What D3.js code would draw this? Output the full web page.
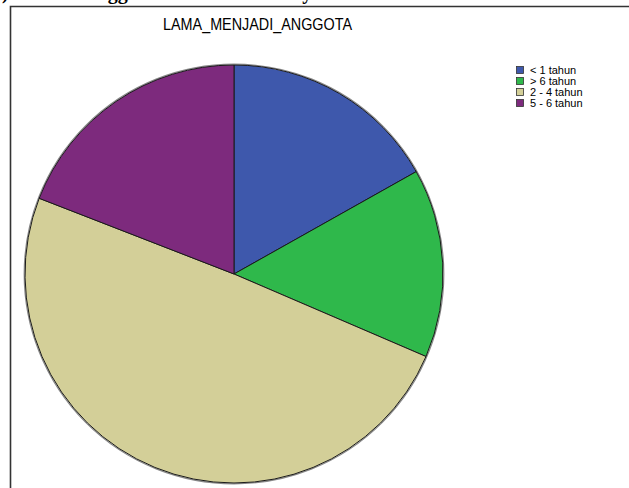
<!DOCTYPE html>
<html><head><meta charset="utf-8">
<script src="https://cdn.jsdelivr.net/npm/d3@7"></script>
<style>html,body{margin:0;padding:0;background:#fff;overflow:hidden}</style>
</head><body>
<svg id="c" width="629" height="488"></svg>
<script>
const categories = ["< 1 tahun", "> 6 tahun", "2 - 4 tahun", "5 - 6 tahun"];
const counts = [15, 13, 44, 17];
const colors = ["#3e58ac", "#2fb84b", "#d3cf98", "#7d2a7d"];
const title = "LAMA_MENJADI_ANGGOTA";
const heading = "b) Jumlah Anggota Menurut Lamanya";

const svg = d3.select("#c");

// cut-off heading above the frame
svg.append("text").attr("x", -9).attr("y", -1)
  .attr("font-family", "Liberation Serif").attr("font-weight", "bold")
  .attr("font-size", 20).attr("fill", "#000").text(heading);

// frame
svg.append("path").attr("d", "M10.5,490 V6.5 H640")
  .attr("fill", "none").attr("stroke", "#333").attr("stroke-width", 1.6);

svg.append("text").attr("x", 257.5).attr("y", 30).attr("text-anchor", "middle")
  .attr("font-family", "Liberation Sans").attr("font-size", 16).attr("fill", "#000")
  .attr("textLength", 189).attr("lengthAdjust", "spacingAndGlyphs")
  .text(title);

const cx = 234, cy = 274, r = 209;
const pie = d3.pie().sort(null).value(d => d.v);
const arcs = pie(categories.map((c, i) => ({c, v: counts[i], col: colors[i]})));
const arc = d3.arc().innerRadius(0).outerRadius(r);
const g = svg.append("g").attr("transform", `translate(${cx},${cy})`);
g.append("circle").attr("r", r + 0.8).attr("fill", "none").attr("stroke", "#888").attr("stroke-width", 1.2);
g.selectAll("path").data(arcs).enter().append("path")
  .attr("d", arc).attr("fill", d => d.data.col)
  .attr("stroke", "#1a1a1a").attr("stroke-width", 1);

const lg = svg.append("g").attr("transform", "translate(516,66)");
const y = d3.scaleBand().domain(categories).range([0, 44]);
const it = lg.selectAll("g").data(categories).enter().append("g")
  .attr("transform", d => `translate(0,${y(d)})`);
it.append("rect").attr("width", 7).attr("height", 7).attr("x", 0.5).attr("y", 0.5)
  .attr("fill", (d, i) => colors[i]).attr("stroke", "#333").attr("stroke-width", 0.8);
it.append("text").attr("x", 14).attr("y", 8).attr("font-family", "Liberation Sans")
  .attr("font-size", 11).attr("fill", "#000").text(d => d);
</script>
</body></html>
